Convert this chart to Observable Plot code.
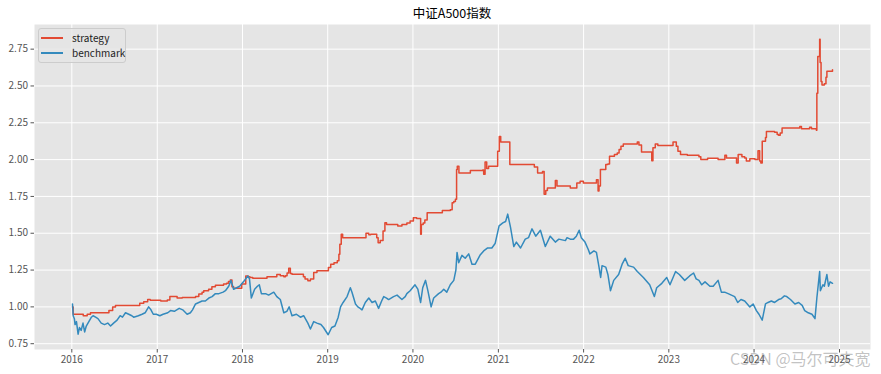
<!DOCTYPE html>
<html>
<head>
<meta charset="utf-8">
<script src="https://cdn.jsdelivr.net/npm/d3@7"></script>
<script src="https://cdn.jsdelivr.net/npm/@observablehq/plot@0.6"></script>
<style>
  body { margin: 0; background: #fff; font-family: "Noto Sans CJK SC", "Noto Sans", sans-serif; }
  #wrap { position: relative; width: 881px; height: 374px; overflow: hidden; }
  #title { height: 24px; line-height: 26px; padding-left: 34px; width: 836px; text-align: center; font-size: 12.5px; color: #000; }
  #legend { position: absolute; left: 38px; top: 28px; width: 86px; height: 33px; background: rgba(229,229,229,0.8);
            border: 1px solid #cccccc; border-radius: 3px; font-size: 10px; color: #222; }
  #legend .row { position: absolute; left: 0; height: 15px; line-height: 15px; white-space: nowrap; }
  #legend .sw { position: absolute; left: 2px; top: 7px; width: 22px; height: 2px; }
  #legend .lb { position: absolute; left: 33px; top: 0; }
  #wm { position: absolute; left: 730px; top: 346px; font-size: 16px; color: rgba(120,120,120,0.45); white-space: nowrap; }
</style>
</head>
<body>
<div id="wrap">
  <div id="title"></div>
  <div id="chart"></div>
  <div id="legend"></div>
  <div id="wm">CSDN @马尔可夫宽</div>
</div>
<script>
const chartTitle = "中证A500指数";
const seriesNames = ["strategy", "benchmark"];
const xTickYears = [2016, 2017, 2018, 2019, 2020, 2021, 2022, 2023, 2024, 2025];
const yTicks = [0.75, 1.00, 1.25, 1.50, 1.75, 2.00, 2.25, 2.50, 2.75];

const strategyDates = [
"2016-01-04","2016-01-07","2016-02-19","2016-03-07","2016-03-21","2016-06-08","2016-06-24","2016-07-06","2016-10-18","2016-11-04",
"2016-11-21","2016-12-02","2017-01-16","2017-02-13","2017-02-24","2017-03-27","2017-04-18","2017-06-14","2017-06-28","2017-07-12",
"2017-07-19","2017-08-09","2017-08-23","2017-09-07","2017-10-12","2017-10-25","2017-11-02","2017-11-10","2017-11-17","2017-11-24",
"2017-12-29","2018-01-15","2018-01-25","2018-02-02","2018-02-14","2018-04-16","2018-05-28","2018-06-12","2018-06-27","2018-07-04",
"2018-07-11","2018-07-18","2018-07-25","2018-08-01","2018-09-19","2018-09-26","2018-10-08","2018-10-19","2018-11-02","2018-11-16",
"2019-01-04","2019-01-14","2019-01-28","2019-02-11","2019-02-18","2019-02-22","2019-02-28","2019-03-06","2019-06-14","2019-06-26",
"2019-07-04","2019-07-30","2019-08-05","2019-08-14","2019-08-26","2019-09-03","2019-09-10","2019-10-28","2019-11-15","2019-12-06",
"2019-12-20","2020-01-03","2020-01-17","2020-02-03","2020-02-06","2020-02-14","2020-02-21","2020-03-02","2020-05-06","2020-06-09",
"2020-06-17","2020-06-24","2020-07-01","2020-07-06","2020-07-09","2020-07-16","2020-09-03","2020-10-26","2020-10-30","2020-11-05",
"2020-11-12","2020-11-20","2020-12-29","2021-01-05","2021-01-11","2021-02-19","2021-06-04","2021-06-18","2021-07-09","2021-07-16",
"2021-07-23","2021-07-30","2021-09-02","2021-09-09","2021-11-05","2021-12-03","2021-12-17","2021-12-31","2022-02-25","2022-03-04",
"2022-03-08","2022-03-14","2022-04-06","2022-04-15","2022-04-22","2022-05-13","2022-05-25","2022-06-02","2022-06-10","2022-06-20",
"2022-08-19","2022-08-26","2022-09-06","2022-10-20","2022-10-25","2022-11-04","2022-11-15","2023-01-19","2023-02-02","2023-02-09",
"2023-02-20","2023-03-21","2023-05-10","2023-05-18","2023-06-16","2023-07-31","2023-08-29","2023-09-05","2023-10-18","2023-10-25",
"2023-11-10","2023-11-22","2023-11-29","2023-12-14","2024-01-05","2024-01-18","2024-01-25","2024-01-30","2024-02-05","2024-02-19",
"2024-02-23","2024-03-29","2024-04-09","2024-04-15","2024-04-22","2024-04-30","2024-07-15","2024-07-22","2024-08-26","2024-09-03",
"2024-09-24","2024-09-26","2024-09-30","2024-10-08","2024-10-10","2024-10-14","2024-10-18","2024-10-28","2024-11-04","2024-11-08",
"2024-12-02"];
const strategyValues = [
1.00,0.95,0.94,0.95,0.96,0.975,1.00,1.01,1.025,1.035,
1.05,1.045,1.04,1.047,1.07,1.06,1.064,1.07,1.088,1.10,
1.11,1.12,1.137,1.147,1.155,1.16,1.173,1.182,1.137,1.126,
1.155,1.21,1.205,1.20,1.194,1.205,1.22,1.211,1.205,1.211,
1.23,1.263,1.226,1.222,1.205,1.19,1.178,1.19,1.234,1.245,
1.268,1.29,1.30,1.313,1.358,1.426,1.493,1.47,1.50,1.49,
1.493,1.47,1.436,1.45,1.516,1.572,1.56,1.55,1.56,1.57,
1.583,1.605,1.60,1.493,1.56,1.57,1.59,1.64,1.654,1.66,
1.707,1.715,1.73,1.932,1.955,1.909,1.926,1.93,1.90,1.984,
1.94,1.955,2.056,2.157,2.119,1.966,1.95,1.909,1.92,1.764,
1.79,1.808,1.858,1.82,1.808,1.842,1.853,1.842,1.864,1.786,
1.82,1.932,1.966,1.97,2.022,2.034,2.045,2.068,2.09,2.106,
2.119,2.10,2.051,1.993,2.08,2.106,2.095,2.119,2.09,2.056,
2.034,2.03,2.02,2.00,2.01,2.00,2.03,2.011,1.977,2.034,
2.02,2.011,1.99,2.005,2.00,2.06,1.99,1.977,2.124,2.15,
2.191,2.185,2.17,2.165,2.18,2.214,2.225,2.21,2.22,2.21,
2.20,2.45,2.70,2.817,2.66,2.53,2.507,2.515,2.56,2.60,
2.61];

const benchmarkDates = [
"2016-01-04","2016-01-07","2016-01-12","2016-01-15","2016-01-21","2016-01-28","2016-02-03","2016-02-10","2016-02-18","2016-02-25",
"2016-03-03","2016-03-14","2016-03-25","2016-04-01","2016-04-12","2016-04-22","2016-05-06","2016-05-20","2016-06-03","2016-06-15",
"2016-06-28","2016-07-13","2016-07-26","2016-08-05","2016-08-18","2016-09-01","2016-09-14","2016-09-22","2016-10-12","2016-10-28",
"2016-11-10","2016-11-25","2016-12-05","2016-12-15","2016-12-28","2017-01-12","2017-01-26","2017-02-15","2017-02-27","2017-03-15",
"2017-04-05","2017-04-20","2017-05-09","2017-05-23","2017-06-01","2017-06-14","2017-06-28","2017-07-12","2017-07-26","2017-08-10",
"2017-08-24","2017-09-07","2017-09-22","2017-10-10","2017-10-20","2017-11-03","2017-11-13","2017-11-24","2017-12-07","2017-12-20",
"2018-01-05","2018-01-24","2018-01-31","2018-02-08","2018-02-22","2018-03-06","2018-03-14","2018-03-23","2018-04-10","2018-04-23",
"2018-05-15","2018-05-28","2018-06-12","2018-06-27","2018-07-10","2018-07-20","2018-08-01","2018-08-20","2018-09-06","2018-09-20",
"2018-10-08","2018-10-19","2018-11-02","2018-11-16","2018-12-03","2018-12-14","2019-01-03","2019-01-18","2019-02-01","2019-02-15",
"2019-02-25","2019-03-08","2019-03-25","2019-04-08","2019-04-15","2019-04-30","2019-05-10","2019-05-20","2019-05-28","2019-06-11",
"2019-06-26","2019-07-10","2019-07-24","2019-08-07","2019-08-20","2019-08-29","2019-09-10","2019-09-19","2019-10-10","2019-10-25",
"2019-11-15","2019-11-29","2019-12-06","2019-12-20","2020-01-10","2020-01-22","2020-02-03","2020-02-12","2020-02-24","2020-03-05",
"2020-03-19","2020-03-30","2020-04-20","2020-04-30","2020-05-12","2020-05-25","2020-06-09","2020-06-24","2020-07-03","2020-07-08",
"2020-07-15","2020-07-29","2020-08-12","2020-08-27","2020-09-10","2020-09-24","2020-10-14","2020-10-30","2020-11-16","2020-12-04",
"2020-12-18","2021-01-04","2021-01-20","2021-02-01","2021-02-10","2021-02-22","2021-03-08","2021-03-19","2021-04-06","2021-04-26",
"2021-05-10","2021-05-25","2021-06-10","2021-06-30","2021-07-21","2021-08-11","2021-09-02","2021-09-17","2021-10-15","2021-10-22",
"2021-11-05","2021-11-19","2021-12-01","2021-12-13","2021-12-22","2022-01-07","2022-01-21","2022-01-28","2022-02-14","2022-02-25",
"2022-03-08","2022-03-15","2022-03-21","2022-04-06","2022-04-15","2022-04-26","2022-05-10","2022-05-31","2022-06-15","2022-06-28",
"2022-07-11","2022-08-03","2022-08-19","2022-09-14","2022-10-11","2022-10-31","2022-11-10","2022-12-02","2022-12-23","2023-01-06",
"2023-01-30","2023-02-15","2023-03-10","2023-03-31","2023-04-17","2023-04-28","2023-05-10","2023-05-22","2023-06-05","2023-06-26",
"2023-07-10","2023-07-31","2023-08-14","2023-08-28","2023-09-12","2023-09-26","2023-10-10","2023-10-23","2023-11-06","2023-11-22",
"2023-12-14","2023-12-28","2024-01-11","2024-01-22","2024-02-05","2024-02-19","2024-03-01","2024-03-15","2024-03-29","2024-04-15",
"2024-04-26","2024-05-10","2024-05-20","2024-06-05","2024-06-24","2024-07-10","2024-07-25","2024-08-05","2024-08-20","2024-09-05",
"2024-09-18","2024-09-26","2024-10-08","2024-10-11","2024-10-22","2024-10-28","2024-11-08","2024-11-15","2024-11-22","2024-12-02"];
const benchmarkValues = [
1.02,0.94,0.92,0.88,0.90,0.815,0.86,0.84,0.89,0.83,
0.87,0.90,0.93,0.94,0.93,0.92,0.89,0.88,0.89,0.87,
0.89,0.91,0.94,0.93,0.96,0.95,0.94,0.93,0.94,0.95,
0.96,1.00,0.98,0.95,0.95,0.94,0.95,0.96,0.975,0.97,
0.99,0.98,0.95,0.96,0.98,1.02,1.03,1.04,1.04,1.06,
1.07,1.09,1.09,1.10,1.11,1.14,1.18,1.12,1.13,1.14,
1.17,1.21,1.19,1.06,1.12,1.14,1.15,1.09,1.09,1.08,
1.10,1.07,1.05,0.96,0.97,1.00,0.94,0.95,0.93,0.94,
0.89,0.85,0.90,0.89,0.88,0.86,0.811,0.86,0.87,0.93,
1.00,1.03,1.07,1.13,1.10,1.02,1.00,0.99,0.98,1.03,
1.06,1.03,1.04,0.99,1.04,1.07,1.06,1.05,1.07,1.08,
1.05,1.07,1.09,1.11,1.15,1.12,1.03,1.13,1.18,1.11,
1.00,1.06,1.09,1.10,1.12,1.10,1.15,1.18,1.25,1.37,
1.30,1.35,1.33,1.36,1.29,1.29,1.35,1.38,1.40,1.40,
1.43,1.55,1.57,1.58,1.63,1.54,1.41,1.44,1.40,1.46,
1.47,1.53,1.48,1.52,1.41,1.48,1.44,1.46,1.45,1.47,
1.46,1.46,1.48,1.52,1.47,1.44,1.39,1.36,1.38,1.37,
1.27,1.20,1.28,1.27,1.22,1.11,1.18,1.22,1.29,1.33,
1.28,1.27,1.24,1.20,1.15,1.07,1.13,1.16,1.20,1.15,
1.24,1.22,1.18,1.21,1.23,1.19,1.18,1.15,1.17,1.14,
1.14,1.18,1.10,1.10,1.09,1.08,1.07,1.03,1.05,1.04,
1.00,1.02,0.975,0.95,0.91,1.02,1.03,1.04,1.03,1.05,
1.055,1.075,1.07,1.05,1.02,1.03,1.01,0.975,0.96,0.95,
0.92,1.06,1.24,1.11,1.15,1.14,1.22,1.14,1.17,1.16];

const lineColors = ["#E24A33", "#348ABD"];
const fontFam = '"Noto Sans CJK SC", "Noto Sans", sans-serif';

const parse = d3.utcParse("%Y-%m-%d");
const strategy = strategyDates.map((d, i) => ({date: parse(d), value: strategyValues[i]}));
const benchmark = benchmarkDates.map((d, i) => ({date: parse(d), value: benchmarkValues[i]}));

// matplotlib-style 5% margins around the data extent
const allDates = strategy.concat(benchmark).map(d => +d.date);
const allVals = strategyValues.concat(benchmarkValues);
const [x0, x1] = d3.extent(allDates);
const [y0, y1] = d3.extent(allVals);
const xPad = (x1 - x0) * 0.05, yPad = (y1 - y0) * 0.05;
const xTicks = xTickYears.map(y => new Date(Date.UTC(y, 0, 1)));

document.getElementById("title").textContent = chartTitle;

const chart = Plot.plot({
  width: 881,
  height: 350,
  marginTop: 0,
  marginRight: 11,
  marginBottom: 25,
  marginLeft: 34,
  style: {fontFamily: fontFam, fontSize: "10px", color: "#555555", background: "transparent", overflow: "visible"},
  x: {type: "utc", domain: [new Date(x0 - xPad), new Date(x1 + xPad)]},
  y: {domain: [y0 - yPad, y1 + yPad]},
  marks: [
    Plot.frame({fill: "#E5E5E5", stroke: null}),
    Plot.gridX({ticks: xTicks, stroke: "#ffffff", strokeOpacity: 1, strokeWidth: 1}),
    Plot.gridY({ticks: yTicks, stroke: "#ffffff", strokeOpacity: 1, strokeWidth: 1}),
    Plot.line(strategy, {x: "date", y: "value", stroke: lineColors[0], strokeWidth: 1.5, curve: "step-after"}),
    Plot.line(benchmark, {x: "date", y: "value", stroke: lineColors[1], strokeWidth: 1.5}),
    Plot.axisX({ticks: xTicks, tickFormat: d3.utcFormat("%Y"), tickSize: 3.5, tickPadding: 3, label: null}),
    Plot.axisY({ticks: yTicks, tickFormat: d3.format(".2f"), tickSize: 3.5, tickPadding: 3, label: null})
  ]
});
document.getElementById("chart").appendChild(chart);

const legend = document.getElementById("legend");
seriesNames.forEach((name, i) => {
  const row = document.createElement("div");
  row.className = "row";
  row.style.top = (1 + i * 15) + "px";
  const sw = document.createElement("div");
  sw.className = "sw";
  sw.style.background = lineColors[i];
  const lb = document.createElement("div");
  lb.className = "lb";
  lb.textContent = name;
  row.appendChild(sw);
  row.appendChild(lb);
  legend.appendChild(row);
});
</script>
</body>
</html>
